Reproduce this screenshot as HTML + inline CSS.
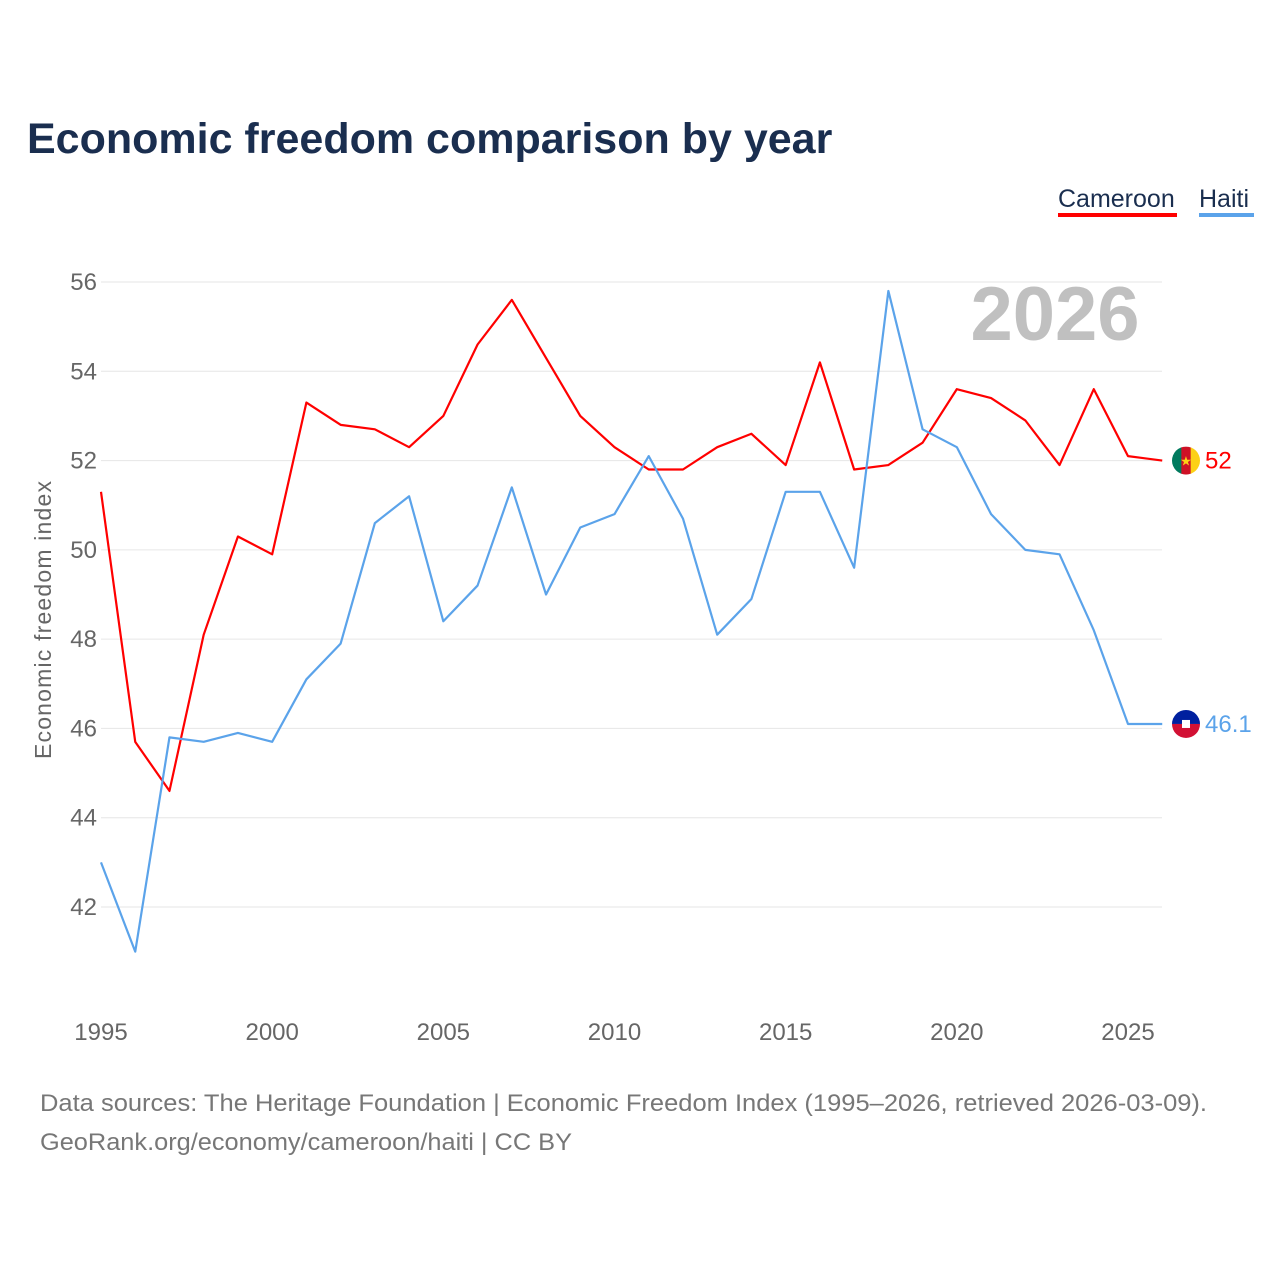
<!DOCTYPE html>
<html><head><meta charset="utf-8"><style>
body{margin:0;background:#fff;font-family:"Liberation Sans",sans-serif;}
svg{display:block}
</style></head><body>
<svg id="chart" width="1280" height="1280" viewBox="0 0 1280 1280">
<text x="27" y="153" font-size="43" font-weight="bold" fill="#1a2e4f">Economic freedom comparison by year</text>
<g>
<text x="1058" y="207" font-size="25" fill="#1a2e4f">Cameroon</text>
<rect x="1058" y="213" width="119" height="4" fill="#ff0000"/>
<text x="1199" y="207" font-size="25" fill="#1a2e4f">Haiti</text>
<rect x="1199" y="213" width="55" height="4" fill="#5ba3ea"/>
</g>
<text x="1055" y="340" font-size="76" font-weight="bold" fill="#c0c0c0" text-anchor="middle">2026</text>
<text transform="translate(51,620) rotate(-90)" font-size="23" fill="#666" text-anchor="middle" textLength="278">Economic freedom index</text>
<g id="grid"></g><g id="ticks"></g><g id="lines"></g><g id="ends"></g>
<text x="40" y="1111" font-size="24" fill="#777" textLength="1167" lengthAdjust="spacingAndGlyphs">Data sources: The Heritage Foundation | Economic Freedom Index (1995–2026, retrieved 2026-03-09).</text>
<text x="40" y="1150" font-size="24" fill="#777" textLength="532" lengthAdjust="spacingAndGlyphs">GeoRank.org/economy/cameroon/haiti | CC BY</text>
</svg>
<script>
const years=[1995,1996,1997,1998,1999,2000,2001,2002,2003,2004,2005,2006,2007,2008,2009,2010,2011,2012,2013,2014,2015,2016,2017,2018,2019,2020,2021,2022,2023,2024,2025,2026];
const cameroon=[51.3,45.7,44.6,48.1,50.3,49.9,53.3,52.8,52.7,52.3,53.0,54.6,55.6,54.3,53.0,52.3,51.8,51.8,52.3,52.6,51.9,54.2,51.8,51.9,52.4,53.6,53.4,52.9,51.9,53.6,52.1,52.0];
const haiti=[43.0,41.0,45.8,45.7,45.9,45.7,47.1,47.9,50.6,51.2,48.4,49.2,51.4,49.0,50.5,50.8,52.1,50.7,48.1,48.9,51.3,51.3,49.6,55.8,52.7,52.3,50.8,50.0,49.9,48.2,46.1,46.1];
const yTicks=[42,44,46,48,50,52,54,56];
const xTicks=[1995,2000,2005,2010,2015,2020,2025];
const NS="http://www.w3.org/2000/svg";
const X=y=>101+(y-1995)*(1128-101)/30;
const Y=v=>907-(v-42)*(907-282)/14;
function mk(tag,attrs,parent){const e=document.createElementNS(NS,tag);for(const k in attrs)e.setAttribute(k,attrs[k]);document.getElementById(parent).appendChild(e);return e;}
yTicks.forEach(t=>{
 const l=mk('line',{x1:101,x2:1162,y1:Y(t),y2:Y(t),stroke:'#e6e6e6','stroke-width':1},'grid');
 
 
 const tx=mk('text',{x:97,y:Y(t)+8,'font-size':24,fill:'#666','text-anchor':'end'},'ticks');
 tx.textContent=t;
 
 
});
xTicks.forEach(t=>{
 const tx=mk('text',{x:X(t),y:1040,'font-size':24,fill:'#666','text-anchor':'middle'},'ticks');
 tx.textContent=t;
 
 
});
function series(vals,color,name){
 const p=mk('polyline',{points:vals.map((v,i)=>X(years[i])+','+Y(v)).join(' '),fill:'none',stroke:color,'stroke-width':2.2,'stroke-linejoin':'round'},'lines');
 
 
}
series(cameroon,'#ff0000','cameroon');
series(haiti,'#5ba3ea','haiti');
function end(vals,color,name,flag){
 const v=vals[vals.length-1],cy=Y(v),cx=1186;
 const g=mk('g',{},'ends');
 
 
 const clipId='c'+name;
 const cp=document.createElementNS(NS,'clipPath');cp.setAttribute('id',clipId);
 const cc=document.createElementNS(NS,'circle');cc.setAttribute('cx',cx);cc.setAttribute('cy',cy);cc.setAttribute('r',14);cp.appendChild(cc);g.appendChild(cp);
 const fg=document.createElementNS(NS,'g');fg.setAttribute('clip-path','url(#'+clipId+')');g.appendChild(fg);
 if(flag==='cm'){
  [['#007a5e',0],['#ce1126',1],['#fcd116',2]].forEach(([c,i])=>{const r=document.createElementNS(NS,'rect');r.setAttribute('x',cx-14+i*28/3);r.setAttribute('y',cy-14);r.setAttribute('width',28/3+0.5);r.setAttribute('height',28);r.setAttribute('fill',c);fg.appendChild(r);});
  const s=document.createElementNS(NS,'text');s.setAttribute('x',cx);s.setAttribute('y',cy+5);s.setAttribute('font-size',13);s.setAttribute('fill','#fcd116');s.setAttribute('text-anchor','middle');s.textContent='★';fg.appendChild(s);
 }else{
  [['#00209f',-14],['#d21034',0]].forEach(([c,y0])=>{const r=document.createElementNS(NS,'rect');r.setAttribute('x',cx-14);r.setAttribute('y',cy+y0);r.setAttribute('width',28);r.setAttribute('height',14);r.setAttribute('fill',c);fg.appendChild(r);});
  const r=document.createElementNS(NS,'rect');r.setAttribute('x',cx-4);r.setAttribute('y',cy-4);r.setAttribute('width',8);r.setAttribute('height',8);r.setAttribute('fill','#fff');fg.appendChild(r);
 }
 const t=document.createElementNS(NS,'text');t.setAttribute('x',1205);t.setAttribute('y',cy+8);t.setAttribute('font-size',24);t.setAttribute('fill',color);t.textContent=v;g.appendChild(t);
}
end(cameroon,'#ff0000','cameroon','cm');
end(haiti,'#5ba3ea','haiti','ht');
</script>
</body></html>
